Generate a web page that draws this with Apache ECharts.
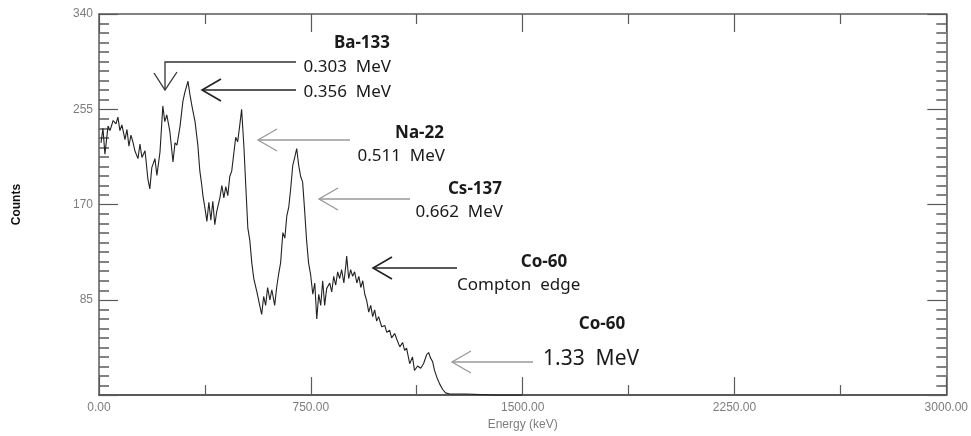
<!DOCTYPE html>
<html>
<head>
<meta charset="utf-8">
<script src="https://cdn.jsdelivr.net/npm/echarts@6/dist/echarts.min.js"></script>
<style>
html,body{margin:0;padding:0;background:#fff;}
#chart{width:971px;height:436px;}
</style>
</head>
<body>
<div id="chart"></div>
<script>
// Energy (keV) sample positions
var energy = [7,14,21,32,39,50,60,67,74,81,92,99,106,113,120,127,138,145,152,163,
  173,180,187,198,205,216,226,233,240,251,262,269,276,287,297,304,315,322,329,340,
  350,357,364,368,375,382,389,396,403,410,417,428,435,442,449,456,463,470,477,484,
  491,498,505,513,520,527,534,541,548,559,569,576,583,590,597,605,612,622,629,636,
  643,651,658,665,672,679,686,693,700,707,714,721,728,735,742,749,757,764,771,778,
  785,792,799,806,817,824,831,838,845,852,859,867,874,877,884,891,898,905,913,920,
  927,934,941,948,955,962,969,976,983,990,1001,1012,1019,1029,1036,1047,1054,1065,1075,1082,
  1089,1100,1110,1117,1128,1139,1149,1160,1167,1174,1181,1188,1196,1206,1217,1227,1242,1300,1400,1500];
// Counts
var counts = [225,238,215,240,236,245,242,248,236,241,228,237,222,232,226,218,211,224,212,218,
  193,184,203,211,196,217,258,244,250,235,208,225,223,240,262,270,280,268,258,244,
  223,200,187,178,167,155,172,156,173,152,164,176,187,176,186,178,195,200,215,230,
  226,240,255,222,185,149,138,118,104,92,80,72,88,80,96,85,94,80,96,108,
  118,145,140,160,168,185,205,212,220,205,195,190,165,138,118,108,90,100,68,90,
  80,102,80,95,100,92,106,98,110,104,112,100,116,124,104,112,106,110,100,106,
  96,102,90,84,74,80,70,76,66,70,61,62,56,58,51,55,50,43,47,40,
  42,28,34,22,26,24,28,36,38,33,30,22,16,10,5,2,1,1,0,0];
var xTicks = [0, 750, 1500, 2250, 3000];
var yTicks = [85, 170, 255, 340];

var seriesData = energy.map(function (e, i) { return [e, counts[i]]; });

var chart = echarts.init(document.getElementById('chart'), null, {renderer: 'canvas'});
var axisCol = '#5a5a5a';
var labelCol = '#7d7d7d';
var txtCol = '#1a1a1a';
var fontAnn = '"Noto Sans", "Open Sans", sans-serif';
var fontAx = 'Liberation Sans, Arial, sans-serif';

function xAxisCfg(pos, showLabel) {
  return {
    type: 'value', position: pos, min: 0, max: 3000, interval: 750,
    axisLine: {show: true, onZero: false, lineStyle: {color: axisCol, width: pos === 'bottom' ? 2 : 1.5}},
    axisTick: {show: true, inside: true, length: 18, lineStyle: {color: axisCol, width: 1.2}},
    minorTick: {show: true, splitNumber: 2, length: 10, lineStyle: {color: axisCol, width: 1.2}},
    splitLine: {show: false},
    axisLabel: {show: showLabel, color: labelCol, fontFamily: fontAx, fontSize: 12, margin: 7,
      formatter: function (v) { return xTicks.indexOf(v) >= 0 ? v.toFixed(2) : ''; }},
    name: showLabel ? 'Energy (keV)' : '', nameLocation: 'middle', nameGap: 22,
    nameTextStyle: {color: labelCol, fontFamily: fontAx, fontSize: 12}
  };
}
function yAxisCfg(pos, showLabel) {
  return {
    type: 'value', position: pos, min: 0, max: 340, interval: 85,
    axisLine: {show: true, onZero: false, lineStyle: {color: axisCol, width: 1.5}},
    axisTick: {show: true, inside: true, length: 19, lineStyle: {color: axisCol, width: 1.2}},
    minorTick: {show: true, splitNumber: 10, length: 10, lineStyle: {color: axisCol, width: 1.5}},
    splitLine: {show: false},
    axisLabel: {show: showLabel, color: labelCol, fontFamily: fontAx, fontSize: 12, margin: 6,
      formatter: function (v) { return yTicks.indexOf(v) >= 0 ? String(v) : ''; }},
    name: showLabel ? 'Counts' : '', nameLocation: 'middle', nameGap: 76, nameRotate: 90,
    nameTextStyle: {color: '#111', fontWeight: 'bold', fontFamily: fontAx, fontSize: 12}
  };
}

function arrow(tipX, tipY, endX, color, w) {
  return [
    {type: 'line', shape: {x1: tipX, y1: tipY, x2: endX, y2: tipY}, style: {stroke: color, lineWidth: w}},
    {type: 'polyline', shape: {points: [[tipX + 19, tipY - 11], [tipX, tipY], [tipX + 19, tipY + 11]]}, style: {stroke: color, lineWidth: w, fill: null}}
  ];
}
function txt(x, y, s, opts) {
  return {type: 'text', x: x, y: y, style: Object.assign({text: s, fill: txtCol, font: '17px ' + fontAnn, textAlign: 'right', textVerticalAlign: 'middle'}, opts || {})};
}

var graphics = [];
// Ba-133 0.303 (down arrow)
graphics.push({type: 'polyline', shape: {points: [[296, 62], [165, 62], [165, 90]]}, style: {stroke: '#333', lineWidth: 1.3, fill: null}});
graphics.push({type: 'polyline', shape: {points: [[154, 73], [165, 90], [177, 72]]}, style: {stroke: '#333', lineWidth: 1.3, fill: null}});
graphics = graphics.concat(arrow(202, 90, 296, '#222', 1.6));
graphics = graphics.concat(arrow(258, 140, 350, '#999', 1.3));
graphics = graphics.concat(arrow(319, 199, 410, '#999', 1.3));
graphics = graphics.concat(arrow(373, 268, 457, '#222', 1.6));
graphics = graphics.concat(arrow(452, 362, 533, '#999', 1.3));

graphics.push(txt(390, 43, 'Ba-133', {font: 'bold 17px ' + fontAnn}));
graphics.push(txt(391, 67, '0.303  MeV'));
graphics.push(txt(391, 92, '0.356  MeV'));
graphics.push(txt(444, 133, 'Na-22', {font: 'bold 17px ' + fontAnn}));
graphics.push(txt(445, 156, '0.511  MeV'));
graphics.push(txt(502, 189, 'Cs-137', {font: 'bold 17px ' + fontAnn}));
graphics.push(txt(503, 212, '0.662  MeV'));
graphics.push(txt(544, 262, 'Co-60', {font: 'bold 17px ' + fontAnn, textAlign: 'center'}));
graphics.push(txt(457, 285, 'Compton  edge', {textAlign: 'left'}));
graphics.push(txt(602, 324, 'Co-60', {font: 'bold 17px ' + fontAnn, textAlign: 'center'}));
graphics.push(txt(543, 359, '1.33  MeV', {font: '21px ' + fontAnn, textAlign: 'left'}));

chart.setOption({
  backgroundColor: '#fff',
  animation: false,
  grid: {left: 99, right: 24, top: 14, bottom: 37},
  xAxis: [xAxisCfg('bottom', true), xAxisCfg('top', false)],
  yAxis: [yAxisCfg('left', true), yAxisCfg('right', false)],
  series: [{
    type: 'line', data: seriesData, xAxisIndex: 0, yAxisIndex: 0,
    symbol: 'none', smooth: false,
    lineStyle: {color: '#222', width: 1.1}
  }],
  graphic: graphics
});
</script>
</body>
</html>
